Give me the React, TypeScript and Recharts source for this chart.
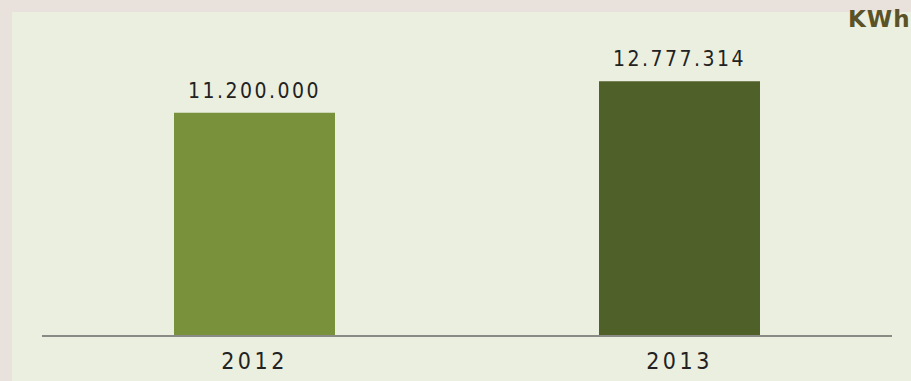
import { BarChart, Bar, XAxis, YAxis, Cell, LabelList } from 'recharts';

// Annual energy consumption (KWh)
const years = ['2012', '2013'];
const consumption = [11200000, 12777314];
const barColors = ['#78913a', '#4f6128'];
const unitLabel = 'KWh';

const data = years.map((year, i) => ({ year, kwh: consumption[i] }));

// thousands separated with dots: 11.200.000
const formatKwh = (v: number) => String(Math.round(v)).replace(/\B(?=(\d{3})+(?!\d))/g, '.');

const labelFont = '"DejaVu Sans Condensed", "DejaVu Sans", sans-serif';

const App = () => {
  return (
    <div
      style={{
        position: 'absolute',
        left: 0,
        top: 0,
        width: 911,
        height: 381,
        background: '#e8e1dc',
        overflow: 'hidden',
      }}
    >
      <div
        style={{
          position: 'absolute',
          left: 12,
          top: 12,
          width: 899,
          height: 369,
          background: '#ebefdf',
        }}
      />
      <div
        style={{
          position: 'absolute',
          left: 848,
          top: 6,
          fontFamily: '"DejaVu Sans", sans-serif',
          fontWeight: 'bold',
          fontSize: 23,
          letterSpacing: 1,
          color: '#5c5228',
          whiteSpace: 'nowrap',
        }}
      >
        {unitLabel}
      </div>
      <div style={{ position: 'absolute', left: 0, top: 0 }}>
        <BarChart
          width={911}
          height={381}
          data={data}
          margin={{ top: 57, right: 19, bottom: 5, left: 42 }}
          barCategoryGap={0}
        >
          <XAxis
            dataKey="year"
            height={40}
            tickLine={false}
            tickSize={0}
            tickMargin={17}
            axisLine={{ stroke: '#8a8b84', strokeWidth: 2 }}
            tick={{ fill: '#222', fontSize: 23, fontFamily: labelFont, letterSpacing: 3.5 }}
          />
          <YAxis hide domain={[0, 14000000]} />
          <Bar dataKey="kwh" barSize={161} isAnimationActive={false}>
            {data.map((d, i) => (
              <Cell key={d.year} fill={barColors[i]} />
            ))}
            <LabelList
              dataKey="kwh"
              position="top"
              offset={15}
              formatter={(v: any) => formatKwh(Number(v))}
              style={{ fill: '#222', fontSize: 21, fontFamily: labelFont, letterSpacing: 2.5 }}
            />
          </Bar>
        </BarChart>
      </div>
    </div>
  );
};

export default App;
